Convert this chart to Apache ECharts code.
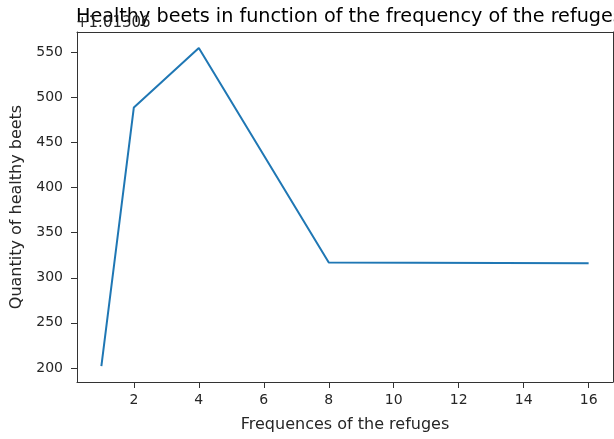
<!DOCTYPE html>
<html>
<head>
<meta charset="utf-8">
<script src="https://cdn.jsdelivr.net/npm/echarts@6/dist/echarts.min.js"></script>
<style>
  html, body { margin: 0; padding: 0; background: #fff; }
  #chart { width: 614px; height: 439px; }
</style>
</head>
<body>
<div id="chart"></div>
<script>
// data
const frequences = [1, 2, 4, 8, 16];
const healthyBeets = [202, 489, 555, 317, 316];
const xTicks = [2, 4, 6, 8, 10, 12, 14, 16];
const yTicks = [200, 250, 300, 350, 400, 450, 500, 550];

const font = 'DejaVu Sans';
const textColor = '#262626';

const myChart = echarts.init(document.getElementById('chart'));

const option = {
  animation: false,
  backgroundColor: '#fff',
  title: [
    {
      // cut off at the right edge, as in the picture
      text: 'Healthy beets in function of the frequency of the refuges',
      left: 71,
      top: 3,
      textStyle: { fontFamily: font, fontSize: 19.2, fontWeight: 'normal', color: '#000' }
    },
    {
      // matplotlib offset text
      text: '+1.01306',
      left: 71,
      top: 11,
      textStyle: { fontFamily: font, fontSize: 15, fontWeight: 'normal', color: textColor }
    }
  ],
  grid: { left: 77, right: 1, top: 32, bottom: 57 },
  xAxis: [
    {
      type: 'value',
      min: 0.25,
      max: 16.75,
      name: 'Frequences of the refuges',
      nameLocation: 'middle',
      nameGap: 35,
      nameTextStyle: { fontFamily: font, fontSize: 16, color: textColor },
      splitLine: { show: false },
      axisLine: { lineStyle: { color: '#333', width: 1 } },
      axisTick: { customValues: xTicks, length: 6, lineStyle: { color: '#333' } },
      axisLabel: { customValues: xTicks, fontFamily: font, fontSize: 14, color: textColor, margin: 11 }
    },
    {
      // top frame line
      type: 'value', position: 'top', min: 0.25, max: 16.75,
      axisLine: { show: true, onZero: false, lineStyle: { color: '#333' } },
      axisTick: { show: false }, axisLabel: { show: false }, splitLine: { show: false }
    }
  ],
  yAxis: [
    {
      type: 'value',
      min: 184.35,
      max: 572.65,
      name: 'Quantity of healthy beets',
      nameLocation: 'middle',
      nameGap: 52,
      nameRotate: 90,
      nameTextStyle: { fontFamily: font, fontSize: 16, color: textColor },
      splitLine: { show: false },
      axisLine: { show: true, lineStyle: { color: '#333', width: 1 } },
      axisTick: { show: true, customValues: yTicks, length: 6, lineStyle: { color: '#333' } },
      axisLabel: { customValues: yTicks, fontFamily: font, fontSize: 14, color: textColor, margin: 14 }
    },
    {
      // right frame line
      type: 'value', position: 'right', min: 184.35, max: 572.65,
      axisLine: { show: true, onZero: false, lineStyle: { color: '#333' } },
      axisTick: { show: false }, axisLabel: { show: false }, splitLine: { show: false }
    }
  ],
  series: [
    {
      type: 'line',
      data: frequences.map((f, i) => [f, healthyBeets[i]]),
      symbol: 'none',
      lineStyle: { color: '#1f77b4', width: 2 }
    }
  ]
};

myChart.setOption(option);
</script>
</body>
</html>
